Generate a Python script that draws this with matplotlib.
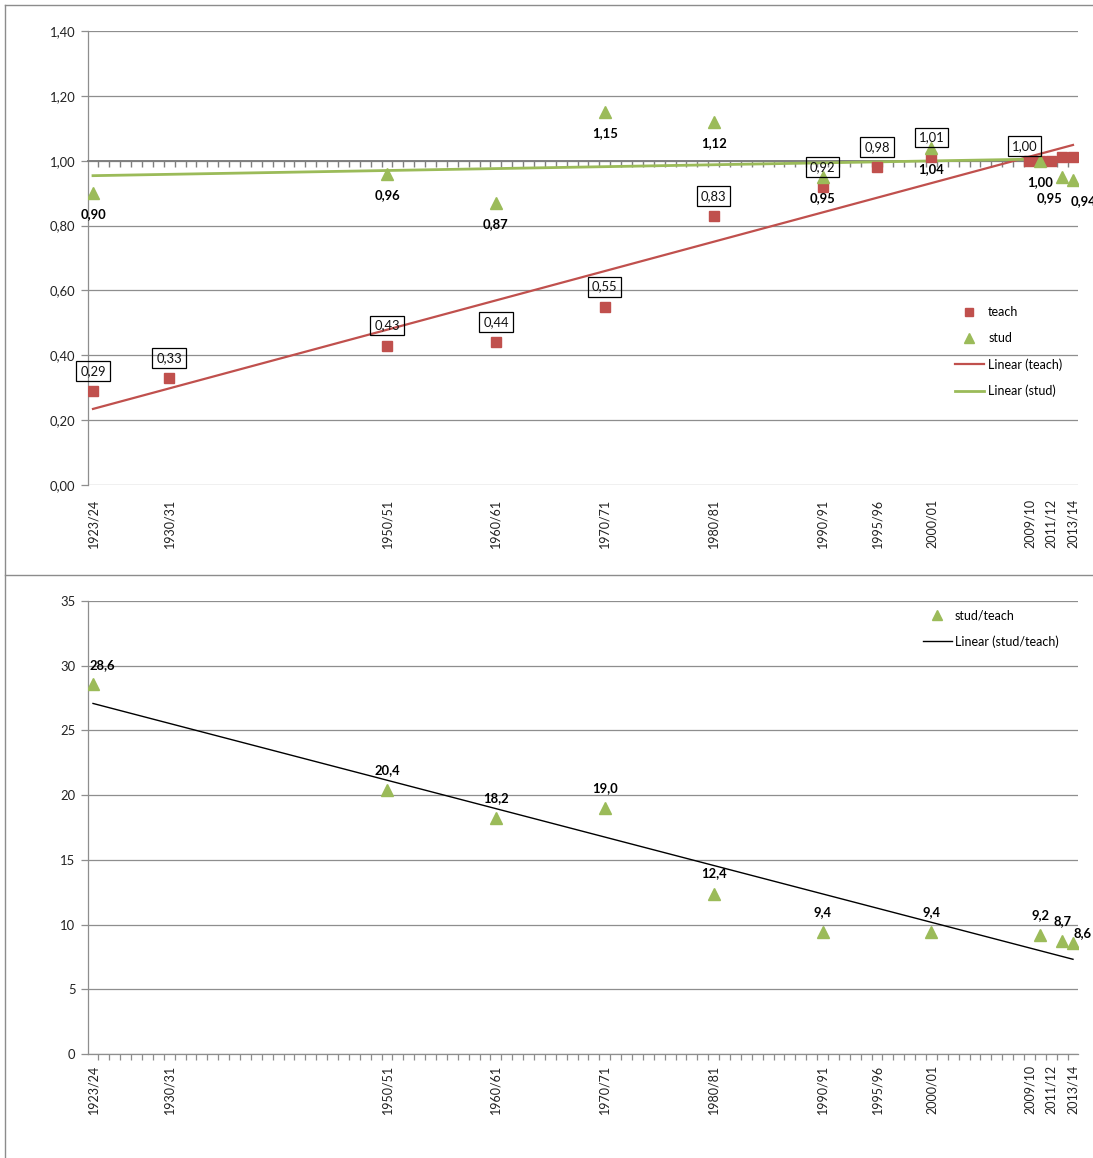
import numpy as np
import matplotlib
matplotlib.use("Agg")
import matplotlib.pyplot as plt
from matplotlib.lines import Line2D
from matplotlib.ticker import FuncFormatter, FixedLocator, FixedFormatter

plt.rcParams['font.family'] = ['Lato', 'DejaVu Sans']

# ---------------- data ----------------
tick_years = [1923, 1930, 1950, 1960, 1970, 1980, 1990, 1995, 2000, 2009, 2011, 2013]
tick_labels = ["1923/24", "1930/31", "1950/51", "1960/61", "1970/71", "1980/81",
               "1990/91", "1995/96", "2000/01", "2009/10", "2011/12", "2013/14"]

teach_x = [1923, 1930, 1950, 1960, 1970, 1980, 1990, 1995, 2000, 2009, 2010, 2011, 2012, 2013]
teach_y = [0.29, 0.33, 0.43, 0.44, 0.55, 0.83, 0.92, 0.98, 1.01, 1.00, 1.00, 1.00, 1.01, 1.01]
teach_lbl = ["0,29", "0,33", "0,43", "0,44", "0,55", "0,83", "0,92", "0,98", "1,01", "1,00",
             None, None, None, None]

stud_x = [1923, 1950, 1960, 1970, 1980, 1990, 2000, 2010, 2012, 2013]
stud_y = [0.90, 0.96, 0.87, 1.15, 1.12, 0.95, 1.04, 1.00, 0.95, 0.94]
stud_lbl = ["0,90", "0,96", "0,87", "1,15", "1,12", "0,95", "1,04", "1,00", "0,95", "0,94"]

ratio_x = [1923, 1950, 1960, 1970, 1980, 1990, 2000, 2010, 2012, 2013]
ratio_y = [28.6, 20.4, 18.2, 19.0, 12.4, 9.4, 9.4, 9.2, 8.7, 8.6]
ratio_lbl = ["28,6", "20,4", "18,2", "19,0", "12,4", "9,4", "9,4", "9,2", "8,7", "8,6"]

# ---------------- style ----------------
RED = '#C0504D'
GREEN = '#9BBB59'
GRID = '#8E8E8E'
FS = 9.0
PX = 72 / 100.0  # points per pixel

W, H = 1093, 1158
fig = plt.figure(figsize=(W / 100, H / 100), dpi=100)

# outer frame lines
for xs, ys in [([5 / W, 5 / W], [0, 1 - 5 / H]),
               ([5 / W, 1], [1 - 5 / H, 1 - 5 / H]),
               ([5 / W, 1], [1 - 575 / H, 1 - 575 / H])]:
    fig.add_artist(Line2D(xs, ys, transform=fig.transFigure, color='#8C8C8C', lw=1.0))

XL = (1922.54, 2013.46)
minor_pos = np.arange(1922.5, 2014.0, 1.0)


def base_axes(ax, ylim, yticks, fmt):
    ax.set_xlim(*XL)
    ax.set_ylim(*ylim)
    ax.set_yticks(yticks)
    ax.yaxis.set_major_formatter(FuncFormatter(fmt))
    ax.grid(axis='y', color=GRID, lw=0.9)
    ax.set_axisbelow(True)
    ax.spines['right'].set_visible(False)
    ax.spines['left'].set_color(GRID)
    ax.spines['left'].set_linewidth(0.9)
    ax.tick_params(axis='y', which='major', length=5, width=0.9, color=GRID,
                   labelsize=FS + 0.4, pad=4, labelcolor='#222222')
    ax.xaxis.set_major_locator(FixedLocator(tick_years))
    ax.xaxis.set_major_formatter(FixedFormatter(tick_labels))
    ax.xaxis.set_minor_locator(FixedLocator(minor_pos))


# ---------------- top chart ----------------
ax1 = fig.add_axes([88 / W, 1 - 485 / H, 990 / W, 454 / H])
base_axes(ax1, (0, 1.4), np.arange(0, 1.41, 0.2), lambda v, p: f"{v:.2f}".replace('.', ','))
ax1.spines['bottom'].set_visible(False)
ax1.spines['top'].set_position(('data', 1.0))
ax1.spines['top'].set_color('#7F7F7F')
ax1.spines['top'].set_linewidth(1.4)
ax1.tick_params(axis='x', which='major', length=0, pad=10, bottom=True, top=False,
                labelbottom=True, labeltop=False, labelrotation=90, labelsize=FS,
                labelcolor='#222222')
ax1.tick_params(axis='x', which='minor', top=True, bottom=False, direction='in',
                length=4, width=1.0, color='#7F7F7F')

ax1.plot(teach_x, teach_y, ls='none', marker='s', ms=7.3, color=RED, mec=RED, label='teach', zorder=4)
ax1.plot(stud_x, stud_y, ls='none', marker='^', ms=8, color=GREEN, mec=GREEN, label='stud', zorder=5)

tx = np.array([min(teach_x), max(teach_x)])
c = np.polyfit(teach_x, teach_y, 1)
ax1.plot(tx, np.polyval(c, tx), color=RED, lw=1.6, label='Linear (teach)', zorder=3)
sx = np.array([min(stud_x), max(stud_x)])
c = np.polyfit(stud_x, stud_y, 1)
ax1.plot(sx, np.polyval(c, sx), color=GREEN, lw=2.0, label='Linear (stud)', zorder=3)

teach_off = {2009: (-5, 15)}
for x, y, l in zip(teach_x, teach_y, teach_lbl):
    if l is None:
        continue
    dx, dy = teach_off.get(x, (0, 20))
    ax1.annotate(l, (x, y), xytext=(dx * PX, dy * PX), textcoords='offset points',
                 ha='center', va='center', fontsize=FS + 0.4, color='#111111', zorder=6,
                 bbox=dict(boxstyle='square,pad=0.3', fc='none', ec='black', lw=0.9))

stud_off = {2012: (-13, -21), 2013: (10, -21)}
for x, y, l in zip(stud_x, stud_y, stud_lbl):
    dx, dy = stud_off.get(x, (0, -21))
    ax1.annotate(l, (x, y), xytext=(dx * PX, dy * PX), textcoords='offset points',
                 ha='center', va='center', fontsize=FS + 0.4, fontweight='bold', color='black',
                 zorder=6, annotation_clip=False)

ax1.legend(loc='upper left', bbox_to_anchor=(955 / W, 1 - 306 / H),
           bbox_transform=fig.transFigure, frameon=False, fontsize=FS,
           borderpad=0, borderaxespad=0, handlelength=2.3, handletextpad=0.35,
           labelspacing=1.12, markerscale=0.85)

# ---------------- bottom chart ----------------
ax2 = fig.add_axes([88 / W, 1 - 1054 / H, 990 / W, 453 / H])
base_axes(ax2, (0, 35), np.arange(0, 36, 5), lambda v, p: f"{v:.0f}")
ax2.spines['top'].set_visible(False)
ax2.spines['bottom'].set_color(GRID)
ax2.spines['bottom'].set_linewidth(0.9)
ax2.tick_params(axis='x', which='major', length=0, pad=8, labelrotation=90,
                labelsize=FS, labelcolor='#222222')
ax2.tick_params(axis='x', which='minor', bottom=True, direction='out', length=4,
                width=0.9, color=GRID)

ax2.plot(ratio_x, ratio_y, ls='none', marker='^', ms=8, color=GREEN, mec=GREEN,
         label='stud/teach', zorder=5)
rx = np.array([min(ratio_x), max(ratio_x)])
c = np.polyfit(ratio_x, ratio_y, 1)
ax2.plot(rx, np.polyval(c, rx), color='black', lw=1.0, label='Linear (stud/teach)', zorder=3)

ratio_off = {1923: (9, 19), 2013: (10, 10)}
for x, y, l in zip(ratio_x, ratio_y, ratio_lbl):
    dx, dy = ratio_off.get(x, (0, 20))
    ax2.annotate(l, (x, y), xytext=(dx * PX, dy * PX), textcoords='offset points',
                 ha='center', va='center', fontsize=FS + 0.4, fontweight='bold', color='black',
                 zorder=6, annotation_clip=False)

ax2.legend(loc='upper left', bbox_to_anchor=(923 / W, 1 - 609 / H),
           bbox_transform=fig.transFigure, frameon=False, fontsize=FS,
           borderpad=0, borderaxespad=0, handlelength=2.3, handletextpad=0.25,
           labelspacing=1.12, markerscale=0.85)

fig.savefig('out.png', dpi=100)
